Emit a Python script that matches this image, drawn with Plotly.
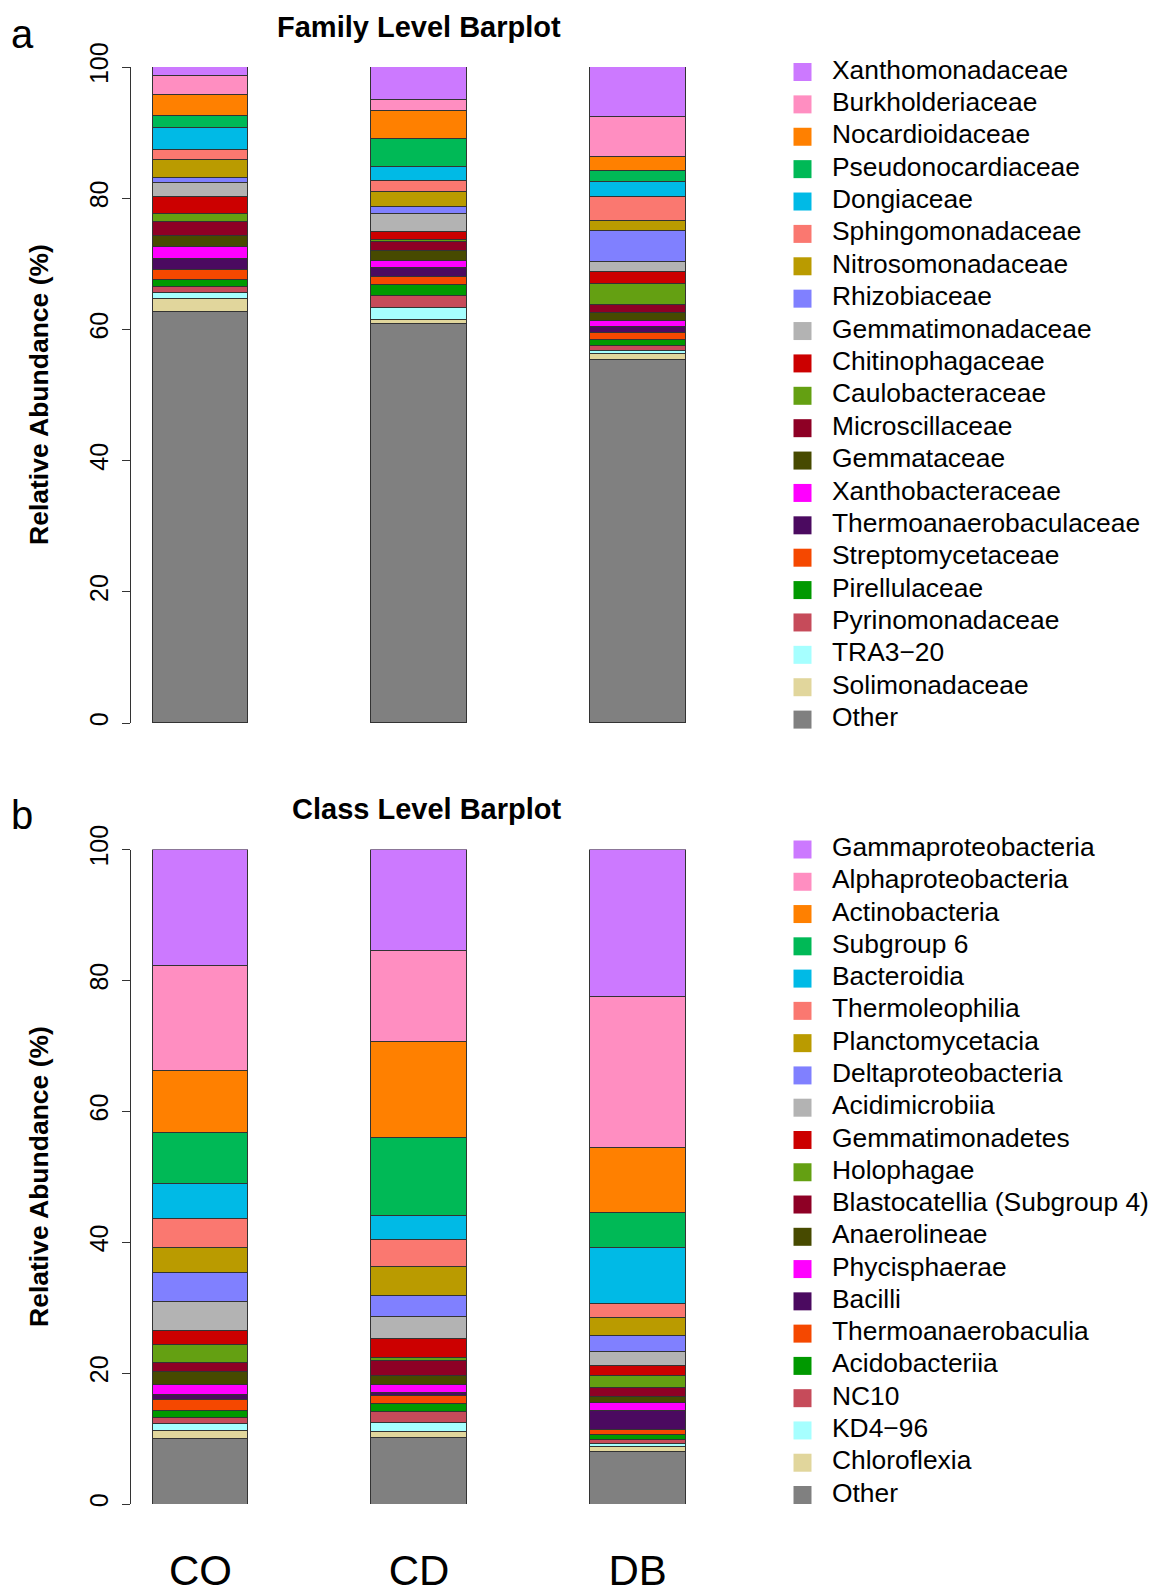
import plotly.graph_objects as go

samples = ["CO", "CD", "DB"]

# ---- Family level (bottom to top of stack) ----
family_names = ["Other", "Solimonadaceae", "TRA3\u221220", "Pyrinomonadaceae", "Pirellulaceae",
                "Streptomycetaceae", "Thermoanaerobaculaceae", "Xanthobacteraceae", "Gemmataceae",
                "Microscillaceae", "Caulobacteraceae", "Chitinophagaceae", "Gemmatimonadaceae",
                "Rhizobiaceae", "Nitrosomonadaceae", "Sphingomonadaceae", "Dongiaceae",
                "Pseudonocardiaceae", "Nocardioidaceae", "Burkholderiaceae", "Xanthomonadaceae"]
family_CO = [62.6, 2.1, 0.9, 0.8, 1.2, 1.4, 1.7, 1.8, 1.7, 2.1, 1.3, 2.6, 2.1, 0.8, 2.8, 1.4, 3.35, 1.95, 3.2, 2.9, 1.3]
family_CD = [60.9, 0.6, 1.8, 1.8, 1.6, 1.3, 1.4, 1.1, 1.45, 1.45, 0.3, 1.1, 2.8, 1.0, 2.3, 1.7, 2.2, 4.2, 4.3, 1.7, 5.0]
family_DB = [55.4, 0.8, 0.55, 0.75, 0.9, 1.1, 0.8, 1.0, 1.15, 1.25, 3.2, 1.85, 1.45, 4.8, 1.6, 3.6, 2.2, 1.7, 2.2, 6.1, 7.6]

# ---- Class level (bottom to top of stack) ----
class_names = ["Other", "Chloroflexia", "KD4\u221296", "NC10", "Acidobacteriia", "Thermoanaerobaculia",
               "Bacilli", "Phycisphaerae", "Anaerolineae", "Blastocatellia (Subgroup 4)", "Holophagae",
               "Gemmatimonadetes", "Acidimicrobiia", "Deltaproteobacteria", "Planctomycetacia",
               "Thermoleophilia", "Bacteroidia", "Subgroup 6", "Actinobacteria",
               "Alphaproteobacteria", "Gammaproteobacteria"]
class_CO = [10.0, 1.2, 1.1, 0.95, 1.05, 1.6, 0.85, 1.55, 1.9, 1.4, 2.7, 2.2, 4.4, 4.45, 3.85, 4.45, 5.25, 7.8, 9.55, 16.05, 17.7]
class_CD = [10.1, 1.05, 1.25, 1.75, 1.25, 1.25, 0.45, 1.2, 1.35, 2.25, 0.55, 2.85, 3.3, 3.3, 4.35, 4.2, 3.6, 11.95, 14.7, 13.8, 15.5]
class_DB = [7.95, 0.8, 0.55, 0.6, 0.75, 0.75, 2.95, 1.15, 1.0, 1.35, 1.8, 1.45, 2.25, 2.45, 2.65, 2.25, 8.45, 5.45, 9.9, 23.1, 22.4]

# colours bottom to top
colors = ["#808080", "#E1D69C", "#A6FFFF", "#C64B5A", "#009900", "#F54800", "#4B0A60", "#FF00FF",
          "#474A00", "#8E0025", "#64A012", "#CC0000", "#B3B3B3", "#8080FF", "#BA9B00", "#FA7870",
          "#00BAE6", "#00B956", "#FF8000", "#FF8EC1", "#CC79FF"]

ytick_vals = [0, 20, 40, 60, 80, 100]

W, H = 1156, 1591
OFF = 8  # default page body margin
FONT = "Liberation Sans, Arial, Helvetica, sans-serif"


def px_x(p):
    return (p - OFF) / W


def py(p):
    return 1 - (p - OFF) / H


fig = go.Figure()


def add_stack(names, cols, xaxis, yaxis):
    for i, name in enumerate(names):
        fig.add_trace(go.Bar(
            x=samples, y=[cols[0][i], cols[1][i], cols[2][i]], name=name,
            marker=dict(color=colors[i], line=dict(color="#333333", width=1)),
            width=0.439, xaxis=xaxis, yaxis=yaxis, showlegend=False,
        ))


# legend axis geometry: x=0 is the swatch centre
LEG_DOM = [780, 1156]
LEG_SW = 802.5
LEG_PX_PER_UNIT = 100.0
leg_range = [-(LEG_SW - LEG_DOM[0]) / LEG_PX_PER_UNIT, (LEG_DOM[1] - LEG_SW) / LEG_PX_PER_UNIT]
LEG_TEXT_X = (832 - LEG_SW) / LEG_PX_PER_UNIT


def add_legend(names, xaxis, yaxis):
    idx = list(range(len(names)))
    fig.add_trace(go.Scatter(
        x=[0] * len(names), y=idx, mode="markers", xaxis=xaxis, yaxis=yaxis,
        marker=dict(symbol="square", size=18, color=colors[:len(names)], line=dict(width=0)),
        showlegend=False, cliponaxis=False, hoverinfo="skip",
    ))
    fig.add_trace(go.Scatter(
        x=[LEG_TEXT_X] * len(names), y=idx, mode="text", text=names, textposition="middle right",
        textfont=dict(size=26.4, family=FONT, color="black"), xaxis=xaxis, yaxis=yaxis,
        showlegend=False, cliponaxis=False, hoverinfo="skip",
    ))


add_stack(family_names, [family_CO, family_CD, family_DB], "x", "y")
add_stack(class_names, [class_CO, class_CD, class_DB], "x2", "y2")
add_legend(family_names, "x3", "y3")
add_legend(class_names, "x4", "y4")

xl, xr = px_x(131), px_x(720)
xrange = [-0.318, 2.3765]

yaxis_common = dict(range=[0, 100], tickvals=ytick_vals, ticks="outside", ticklen=8,
                    tickcolor="#333333", showline=True, linecolor="#333333", linewidth=1,
                    showgrid=False, zeroline=False, tickangle=-90,
                    tickfont=dict(size=25, family=FONT, color="black"), ticklabelstandoff=4)

hidden = dict(visible=False, showgrid=False, zeroline=False, fixedrange=True)

fig.update_layout(
    width=W, height=H, margin=dict(l=0, r=0, t=0, b=0, autoexpand=False),
    paper_bgcolor="white", plot_bgcolor="rgba(0,0,0,0)", barmode="stack", bargap=0,
    font=dict(family=FONT, color="black"), showlegend=False,
    xaxis=dict(domain=[xl, xr], range=xrange, showticklabels=False, showline=False, ticks="",
               showgrid=False, zeroline=False, anchor="y"),
    yaxis=dict(domain=[py(723), py(67)], anchor="x", **yaxis_common),
    xaxis2=dict(domain=[xl, xr], range=xrange, showline=False, ticks="", showgrid=False,
                zeroline=False, anchor="y2", tickfont=dict(size=42, family=FONT, color="black"),
                ticklabelstandoff=38),
    yaxis2=dict(domain=[py(1504), py(849.5)], anchor="x2", **yaxis_common),
    xaxis3=dict(domain=[px_x(LEG_DOM[0]), px_x(LEG_DOM[1])], range=leg_range, anchor="y3", **hidden),
    yaxis3=dict(domain=[py(719.6), py(72)], range=[0, 20], anchor="x3", **hidden),
    xaxis4=dict(domain=[px_x(LEG_DOM[0]), px_x(LEG_DOM[1])], range=leg_range, anchor="y4", **hidden),
    yaxis4=dict(domain=[py(1495), py(849.5)], range=[0, 20], anchor="x4", **hidden),
)

annots = [
    dict(text="<b>Family Level Barplot</b>", x=px_x(419), y=py(27), size=29),
    dict(text="<b>Class Level Barplot</b>", x=px_x(426), y=py(809), size=29),
    dict(text="a", x=px_x(22), y=py(34), size=40),
    dict(text="b", x=px_x(22), y=py(815), size=40),
]
for a in annots:
    fig.add_annotation(text=a["text"], x=a["x"], y=a["y"], xref="paper", yref="paper",
                       showarrow=False, xanchor="center", yanchor="middle",
                       font=dict(size=a["size"], family=FONT, color="black"))

for yc in [395, 1177]:
    fig.add_annotation(text="<b>Relative Abundance (%)</b>", x=px_x(39), y=py(yc), xref="paper",
                       yref="paper", showarrow=False, textangle=-90, xanchor="center",
                       yanchor="middle", font=dict(size=26.5, family=FONT, color="black"))

fig.write_html("out.html")
